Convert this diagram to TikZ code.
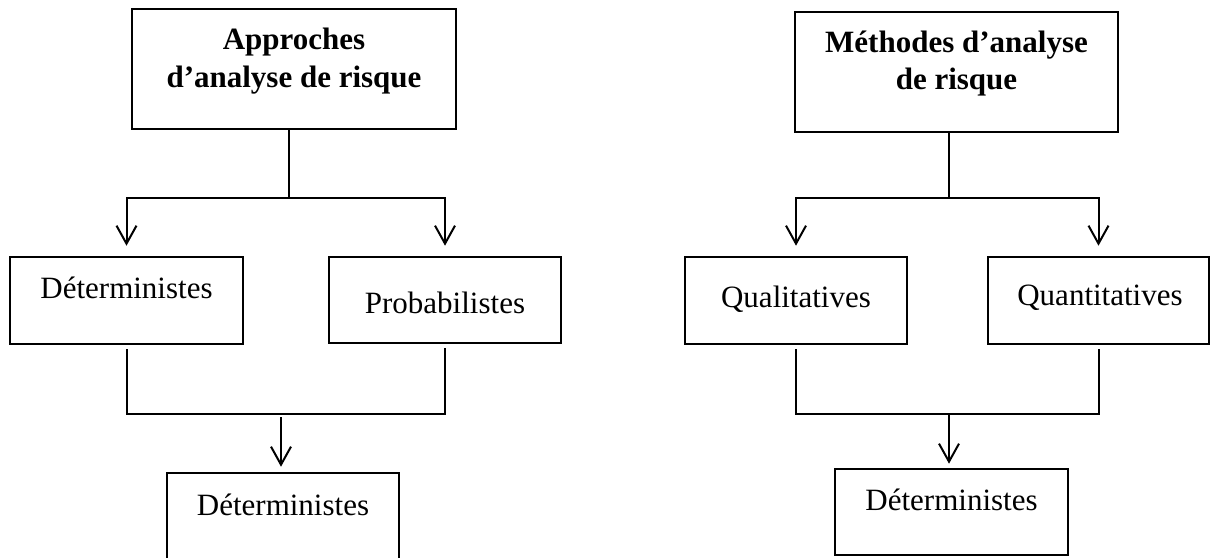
\documentclass[tikz,border=0pt]{standalone}
\usepackage{fontspec}
\setmainfont{Liberation Serif}
\usetikzlibrary{arrows.meta,calc}

\begin{document}
\begin{tikzpicture}[x=1pt,y=-1pt,
  box/.style={draw=black, line width=2.6pt, rectangle, inner sep=0pt},
  label text/.style={anchor=base, inner sep=0pt, font=\fontsize{31}{37}\selectfont},
  title text/.style={anchor=base, inner sep=0pt, font=\fontsize{31}{38}\selectfont\bfseries},
  conn/.style={draw=black, line width=2pt},
  arr/.style={conn, -{Straight Barb[length=18pt, width=20pt]}}
]
\useasboundingbox (0,0) rectangle (1210,557);
\clip (0,0) rectangle (1210,557);

% ---------- left tree: approaches ----------
\node[box, minimum width=324pt, minimum height=120pt] (A) at (294,69) {};
\node[title text] (A1) at (294,49) {Approches};
\node[title text] (A2) at (294,87) {d’analyse de risque};

\node[box, minimum width=233pt, minimum height=87pt] (D1) at (126.5,300.5) {};
\node[label text] (D1t) at (126.5,298) {Déterministes};

\node[box, minimum width=232pt, minimum height=86pt] (P) at (445,300) {};
\node[label text] (Pt) at (445,313) {Probabilistes};

\node[box, minimum width=232pt, minimum height=160pt] (B) at (283,553) {};
\node[label text] (Bt) at (283,515) {Déterministes};

\coordinate (fA) at (289,198);
\coordinate (jA) at (281,414);
\draw[conn] (A.south -| fA) -- (fA);
\draw[arr, shorten >=10pt] (fA) -| (D1.north);
\draw[arr, shorten >=10pt] (fA) -| (P.north);
\draw[conn, shorten <=4pt, shorten >=4pt] (D1.south) |- (jA) -| (P.south);
\draw[arr, shorten <=3pt, shorten >=5pt] (jA) -- (jA |- B.north);

% ---------- right tree: methods ----------
\node[box, minimum width=323pt, minimum height=120pt] (M) at (956.5,72) {};
\node[title text] (M1) at (956.5,52) {Méthodes d’analyse};
\node[title text] (M2) at (956.5,89) {de risque};

\node[box, minimum width=222pt, minimum height=87pt] (Ql) at (796,300.5) {};
\node[label text] (Qlt) at (796,307) {Qualitatives};

\node[box, minimum width=221pt, minimum height=87pt] (Qn) at (1098.5,300.5) {};
\node[label text] (Qnt) at (1100,305) {Quantitatives};

\node[box, minimum width=233pt, minimum height=86pt] (B2) at (951.5,512) {};
\node[label text] (B2t) at (951.5,510) {Déterministes};

\coordinate (fM) at (949,198);
\coordinate (jM) at (949,414);
\draw[conn] (M.south -| fM) -- (fM);
\draw[arr, shorten >=10pt] (fM) -| (Ql.north);
\draw[arr, shorten >=10pt] (fM) -| (Qn.north);
\draw[conn, shorten <=4pt, shorten >=4pt] (Ql.south) |- (jM) -| (Qn.south);
\draw[arr, shorten <=1pt, shorten >=4pt] (jM) -- (jM |- B2.north);
\end{tikzpicture}
\end{document}
